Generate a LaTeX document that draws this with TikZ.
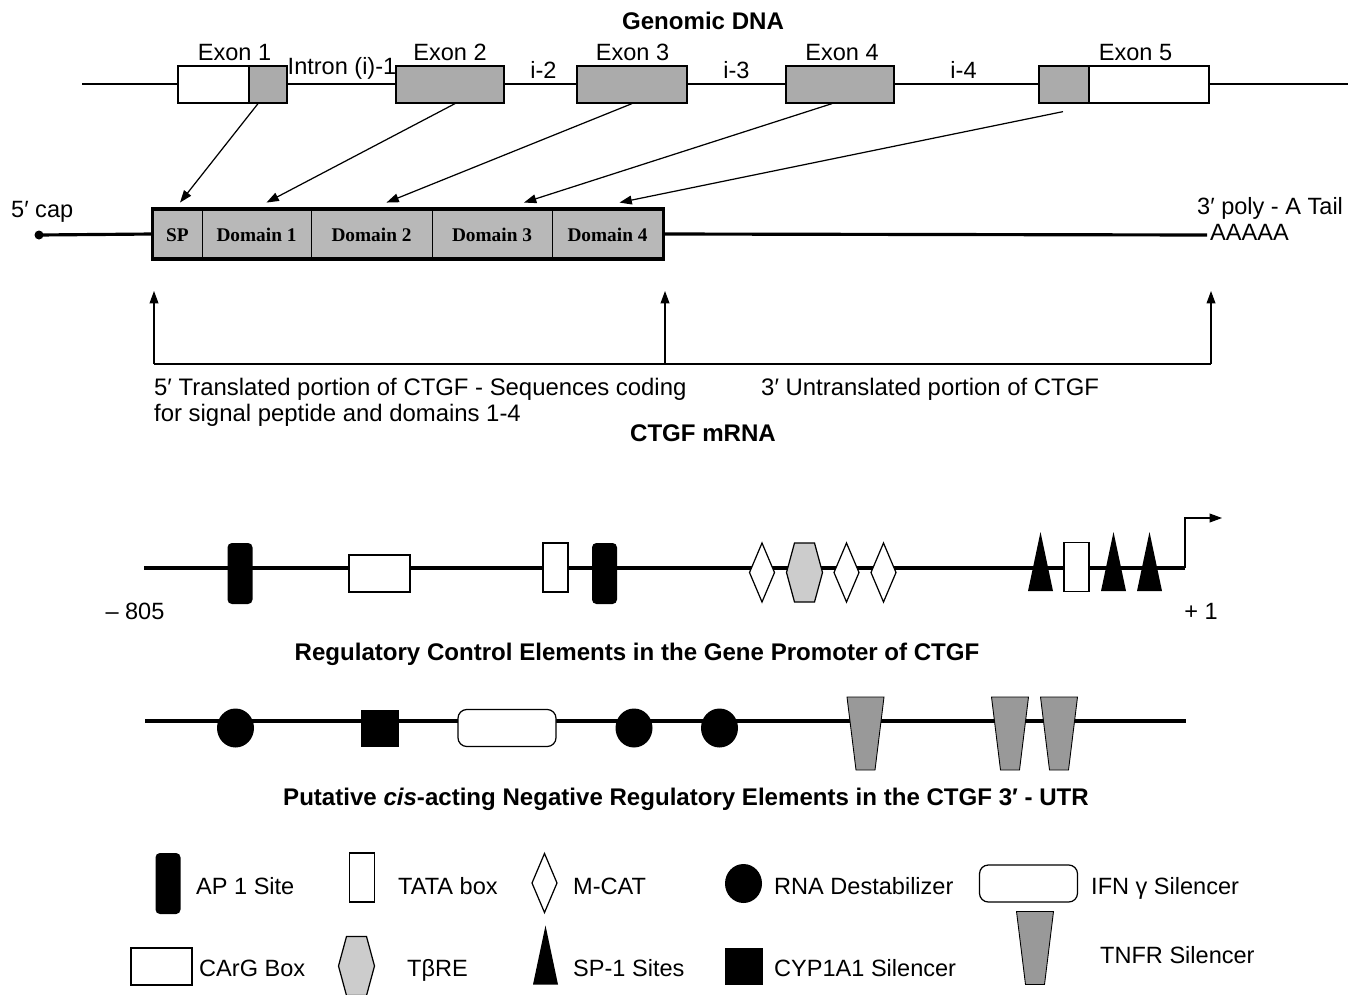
\documentclass[tikz,border=0pt]{standalone}
\usepackage{fontspec}
\setmainfont{Liberation Sans}
\newfontfamily\domfont{Liberation Serif}
\usetikzlibrary{arrows.meta,calc}

\newlength{\px}
\setlength{\px}{0.02cm}

\definecolor{exongray}{gray}{0.67}
\definecolor{boxgray}{gray}{0.72}
\definecolor{tbregray}{gray}{0.80}
\definecolor{tnfrgray}{gray}{0.60}

\tikzset{
  ttl/.style={font=\fontsize{13.7}{15}\selectfont\bfseries},
  exon/.style={draw, line width=0.7pt, fill=exongray, minimum height=37\px, inner sep=0pt},
  utrx/.style={exon, fill=white},
  seg/.style={draw, line width=0.5pt, fill=boxgray, minimum height=49\px, inner sep=0pt,
    text height=8.4pt, text depth=0pt, font=\domfont\fontsize{11}{13}\selectfont\bfseries},
  conn/.style={->, line width=0.7pt},
  dna/.style={line width=0.7pt},
  mline/.style={line width=1.8pt},
  pline/.style={line width=2.8pt},
  thinl/.style={line width=0.6pt},
  elem/.style={draw, line width=0.7pt, fill=white},
  % element symbols (promoter, 3'-UTR and key)
  ap1/.pic={\fill[rounded corners=2.5pt] (-12.5,-30.5) rectangle (12.5,30.5);},
  tata/.pic={\draw[elem] (-12.5,-24.5) rectangle (12.5,24.5);},
  carg/.pic={\draw[elem] (-30.5,-18.5) rectangle (30.5,18.5);},
  mcat/.pic={\draw[elem] (0,-29.5) -- (12.5,0) -- (0,29.5) -- (-12.5,0) -- cycle;},
  tbre/.pic={\draw[elem, fill=tbregray] (-10,-29.5) -- (10,-29.5) -- (18,0) -- (10,29.5)
    -- (-10,29.5) -- (-18,0) -- cycle;},
  spone/.pic={\fill (-12.5,29.5) -- (0,-29.5) -- (12.5,29.5) -- cycle;},
  destab/.pic={\fill (0,0) ellipse (18.5 and 19.5);},
  cyp/.pic={\fill (-19,-18.5) rectangle (19,18.5);},
  ifn/.pic={\draw[elem, rounded corners=5pt] (-49,-18.5) rectangle (49,18.5);},
  tnfr/.pic={\draw[line width=0.5pt, fill=tnfrgray] (-18.5,-36.5) -- (18.5,-36.5) -- (9.5,36.5)
    -- (-9.5,36.5) -- cycle;},
}

\begin{document}
\begin{tikzpicture}[x=0.02cm, y=-0.02cm, >={Triangle[length=7pt,width=5pt]},
  every node/.style={font=\fontsize{13.4}{15}\selectfont, text height=11pt, text depth=1.4pt}]
\useasboundingbox (0,0) rectangle (1348,994);

% genomic DNA
\node[ttl] (gtitle) at (703,21) {Genomic DNA};
\coordinate (dstart) at (82,84);
\coordinate (dend) at (1348,84);
\draw[dna] (dstart) -- (dend);
\node[utrx, minimum width=71\px] (e1w) at (213.5,84.5) {};
\node[exon, minimum width=38\px] (e1g) at (268,84.5) {};
\node[exon, minimum width=108\px] (e2) at (450,84.5) {};
\node[exon, minimum width=110\px] (e3) at (632,84.5) {};
\node[exon, minimum width=108\px] (e4) at (840,84.5) {};
\node[exon, minimum width=50\px] (e5g) at (1064,84.5) {};
\node[utrx, minimum width=120\px] (e5w) at (1149,84.5) {};
\node (lx1) at (234.5,52) {Exon 1};
\node (lx2) at (450,52) {Exon 2};
\node (lx3) at (632.5,52) {Exon 3};
\node (lx4) at (842,52) {Exon 4};
\node (lx5) at (1135.5,52) {Exon 5};
\node (li1) at (342,66) {Intron (i)-1};
\node (li2) at (543.5,70) {i-2};
\node (li3) at (736.5,70) {i-3};
\node (li4) at (963.5,70) {i-4};

% mRNA
\node[seg, minimum width=49\px] (sp) at (177.5,234) {SP};
\node[seg, minimum width=109\px] (d1) at (256.5,234) {Domain 1};
\node[seg, minimum width=121\px] (d2) at (371.5,234) {Domain 2};
\node[seg, minimum width=120\px] (d3) at (492,234) {Domain 3};
\node[seg, minimum width=111\px] (d4) at (607.5,234) {Domain 4};
\draw[line width=1.8pt] (sp.north west) rectangle (d4.south east);
\coordinate (cap) at (39,235);
\coordinate (tail) at (1207,235);
\draw[mline] (cap) -- (sp.west);
\draw[mline] (d4.east) -- (tail);
\fill (cap) circle (4.5);
\node[anchor=west] (capl) at (5,209) {5′ cap};
\node[anchor=west] (taill) at (1191,206) {3′ poly - A Tail};
\node[anchor=west] (polya) at (1204,232) {AAAAA};

% exons to domains
\draw[conn] ($(e1g.south)+(-10,0)$) -- ($(sp.north)+(2.5,-6.5)$);
\draw[conn] ($(e2.south)+(5,0)$) -- ($(d1.north)+(10,-6.5)$);
\draw[conn] (e3.south) -- ($(d2.north)+(15,-6.5)$);
\draw[conn] ($(e4.south)+(-8,0)$) -- ($(d3.north)+(32,-6.5)$);
\draw[conn] ($(e5g.south)+(-1,8)$) -- ($(d4.north)+(12,-6.5)$);

% translated / untranslated parts
\coordinate (u1) at (154,364);
\coordinate (u2) at (665,364);
\coordinate (u3) at (1211,364);
\coordinate (t1) at (154,291);
\coordinate (t2) at (665,291);
\coordinate (t3) at (1211,291);
\draw[thinl] (u1) -- (u3);
\draw[thinl,->] (u1) -- (t1);
\draw[thinl,->] (u2) -- (t2);
\draw[thinl,->] (u3) -- (t3);
\node[anchor=west, align=left, text height=, text depth=,
  font=\fontsize{13.6}{14.8}\selectfont] (trl) at (148,402)
  {5′ Translated portion of CTGF - Sequences coding\\for signal peptide and domains 1-4};
\node[anchor=west, font=\fontsize{13.6}{15}\selectfont] (utr) at (755,387) {3′ Untranslated portion of CTGF};
\node[ttl] (mtitle) at (703,433) {CTGF mRNA};

% promoter
\coordinate (pstart) at (144,568);
\coordinate (pend) at (1185,568);
\coordinate (tss) at (1222,518);
\draw[pline] (pstart) -- (pend);
\draw[thinl,->] (pend) |- (tss);
\pic at (240,573.5) {ap1};
\pic at (379.5,573.5) {carg};
\pic at (555.5,567.5) {tata};
\pic at (604.5,573.5) {ap1};
\pic at (762,572.5) {mcat};
\pic at (804.5,572.5) {tbre};
\pic at (846.5,572.5) {mcat};
\pic at (883.5,572.5) {mcat};
\pic at (1040.5,561.5) {spone};
\pic at (1076.5,567) {tata};
\pic at (1113.5,561.5) {spone};
\pic at (1149.5,561.5) {spone};
\node (m805) at (135,611) {– 805};
\node (p1) at (1201,611) {+ 1};
\node[ttl] (ptitle) at (637,652) {Regulatory Control Elements in the Gene Promoter of CTGF};

% 3'-UTR
\coordinate (ustart) at (145,721);
\coordinate (uend) at (1186,721);
\draw[pline] (ustart) -- (uend);
\pic at (235.5,728) {destab};
\pic at (379.5,728) {cyp};
\pic at (507,728) {ifn};
\pic at (634,728) {destab};
\pic at (719.5,728) {destab};
\pic at (865.5,733.5) {tnfr};
\pic at (1010,733.5) {tnfr};
\pic at (1059,733.5) {tnfr};
\node[ttl] (utitle) at (686,797) {Putative \textit{cis}-acting Negative Regulatory Elements in the CTGF 3′ - UTR};

% key
\pic at (168,883.5) {ap1};
\node[anchor=west] (kap1) at (190,886) {AP 1 Site};
\pic at (362,877.5) {tata};
\node[anchor=west] (ktata) at (392,886) {TATA box};
\pic at (544.5,883) {mcat};
\node[anchor=west] (kmcat) at (567,886) {M-CAT};
\pic at (743.5,883.5) {destab};
\node[anchor=west] (kdest) at (768,886) {RNA Destabilizer};
\pic at (1028.5,883.5) {ifn};
\node[anchor=west] (kifn) at (1085,886) {IFN γ Silencer};
\pic at (161.5,966.5) {carg};
\node[anchor=west] (kcarg) at (193,968) {CArG Box};
\pic at (356.5,966) {tbre};
\node[anchor=west] (ktbre) at (401,968) {TβRE};
\pic at (545.5,955) {spone};
\node[anchor=west] (ksp1) at (567,968) {SP-1 Sites};
\pic at (744,966) {cyp};
\node[anchor=west] (kcyp) at (768,968) {CYP1A1 Silencer};
\pic at (1035,948) {tnfr};
\node[anchor=west] (ktnfr) at (1094,955) {TNFR Silencer};
\end{tikzpicture}
\end{document}
